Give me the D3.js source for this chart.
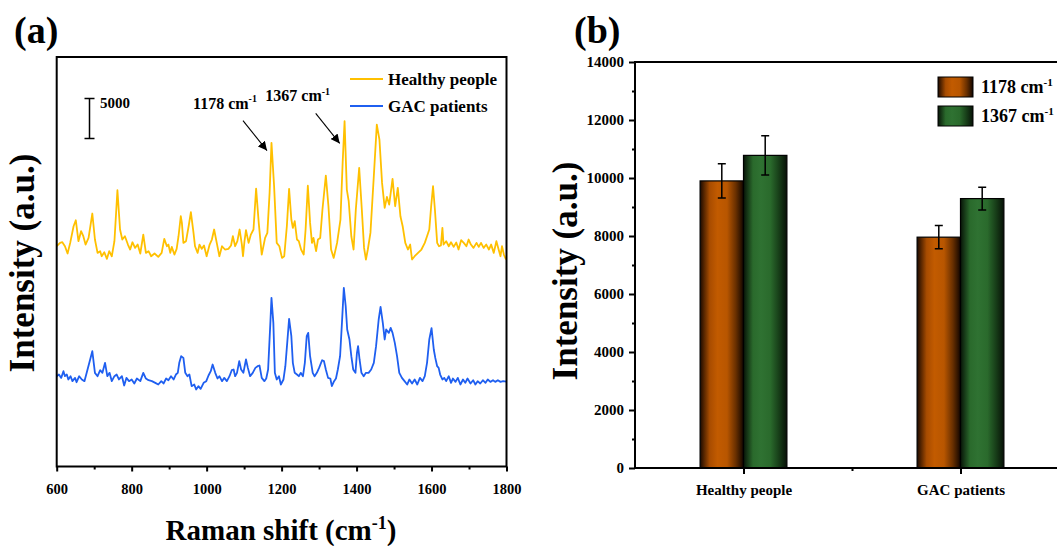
<!DOCTYPE html>
<html>
<head>
<meta charset="utf-8">
<script src="https://cdn.jsdelivr.net/npm/d3@7"></script>
<style>
  body { margin: 0; background: #fff; }
  svg text { font-family: "Liberation Serif", "Times New Roman", serif; font-weight: bold; fill: #000; }
</style>
</head>
<body>
<svg id="fig" width="1057" height="546"></svg>
<script>
// ---- panel (a) data: Raman spectra, [shift cm-1, intensity + stack offset]
var ramanTicks = [600, 800, 1000, 1200, 1400, 1600, 1800];
var ramanMinor = [700, 900, 1100, 1300, 1500, 1700];
var healthySpectrum = [[600,27540],[609,27960],[615,28040],[622,27540],[629,26630],[636,27960],[645,30040],[651,30790],[658,28170],[665,29420],[671,28790],[677,27750],[685,28580],[695,31630],[702,28380],[709,26710],[716,26920],[720,26290],[727,26790],[734,25960],[740,26920],[747,26290],[754,28170],[762,34540],[769,29630],[775,28380],[782,28790],[790,27750],[796,27130],[802,28040],[809,27330],[816,27750],[823,26630],[831,29000],[838,26710],[845,26920],[852,26290],[861,26630],[871,26210],[880,26710],[887,28460],[894,27540],[898,27750],[903,26710],[907,27460],[914,26500],[920,27210],[925,28790],[931,31290],[934,30460],[938,27960],[945,28170],[952,30040],[958,31790],[965,29210],[969,27540],[976,26710],[981,27750],[987,27210],[993,27630],[1000,26290],[1008,27750],[1014,28380],[1020,29630],[1027,27960],[1034,26290],[1041,27540],[1049,27130],[1058,27210],[1065,27630],[1070,28790],[1076,27540],[1082,28170],[1088,29630],[1094,27750],[1097,26290],[1101,28170],[1105,29540],[1112,27960],[1118,29000],[1125,29630],[1132,34750],[1139,30460],[1147,26500],[1156,28580],[1162,29210],[1168,34210],[1173,40460],[1180,35040],[1187,27960],[1194,27540],[1201,26080],[1207,26290],[1214,30040],[1220,34710],[1226,30880],[1230,29830],[1235,30670],[1241,28380],[1246,28170],[1252,27130],[1259,26500],[1264,29630],[1270,35100],[1276,30460],[1281,27960],[1285,28580],[1292,26920],[1297,28380],[1303,28580],[1309,32130],[1318,36380],[1325,32540],[1332,27130],[1339,26080],[1348,27960],[1357,30880],[1363,38130],[1368,43170],[1374,34630],[1379,33170],[1386,28790],[1392,27130],[1398,32130],[1407,37330],[1414,32130],[1420,27330],[1425,25880],[1430,27130],[1437,29210],[1446,36290],[1454,42750],[1461,40880],[1468,35460],[1475,32330],[1481,33710],[1487,32750],[1496,35960],[1503,32540],[1510,34830],[1517,31290],[1523,30040],[1530,27960],[1537,27130],[1543,27750],[1548,25880],[1555,26290],[1564,26710],[1573,27130],[1582,27960],[1588,28790],[1594,29630],[1599,32540],[1604,35040],[1609,32130],[1615,27960],[1620,27540],[1625,27630],[1629,29830],[1632,27750],[1639,28170],[1646,27540],[1652,28040],[1659,27460],[1666,28000],[1672,27130],[1679,28290],[1686,27960],[1693,27540],[1699,28380],[1705,27750],[1712,27330],[1720,27960],[1726,27460],[1732,27960],[1739,27330],[1746,27750],[1753,27130],[1759,27750],[1766,26710],[1773,28170],[1779,27130],[1784,26290],[1788,27540],[1793,26500],[1798,25960],[1800,26000]];
var gacSpectrum = [[600,11290],[606,11500],[612,11080],[618,11920],[622,11290],[627,11500],[631,10880],[637,11290],[642,10670],[649,11080],[653,10540],[660,11290],[667,10880],[674,10670],[680,11710],[687,12960],[695,14420],[702,11710],[709,11290],[716,12040],[722,11710],[729,12960],[735,11290],[741,11710],[747,10670],[754,11290],[760,11500],[766,10880],[774,11290],[780,10130],[786,11080],[793,10670],[800,10880],[807,10380],[814,11000],[823,10670],[831,11710],[838,11000],[845,10790],[854,10670],[863,10460],[871,10250],[879,10670],[885,10380],[892,11000],[898,10790],[905,11290],[912,10880],[918,11500],[923,11710],[927,12960],[932,13790],[938,13580],[943,11710],[949,11290],[954,11500],[960,10040],[967,10250],[972,9630],[978,10040],[984,9710],[992,10460],[999,10670],[1005,11380],[1011,11920],[1016,12750],[1023,11710],[1029,11000],[1034,11290],[1041,10670],[1047,11080],[1054,10670],[1061,11290],[1067,12040],[1072,12130],[1076,11290],[1081,11710],[1087,13170],[1092,12130],[1098,11710],[1105,13380],[1110,12330],[1116,11290],[1123,11710],[1130,12330],[1136,12540],[1141,12630],[1147,11080],[1154,10670],[1159,11000],[1164,12130],[1170,17960],[1173,21080],[1178,17960],[1182,11710],[1187,10880],[1193,11290],[1198,10250],[1205,10880],[1210,12540],[1215,15460],[1220,18460],[1226,16290],[1230,12960],[1235,11710],[1241,11500],[1246,11290],[1251,11710],[1257,11290],[1262,12960],[1267,16290],[1271,16710],[1276,13790],[1283,11710],[1288,11290],[1294,11710],[1300,12330],[1308,13290],[1313,13170],[1318,12130],[1324,11080],[1330,11000],[1334,10040],[1340,10670],[1345,11000],[1350,12130],[1356,13790],[1361,17960],[1366,22330],[1371,20040],[1375,17130],[1381,15880],[1386,13790],[1391,12130],[1397,11710],[1401,14210],[1404,15040],[1408,13380],[1413,11710],[1419,11290],[1425,11710],[1432,11710],[1439,12130],[1446,12960],[1452,15040],[1459,18380],[1464,19960],[1470,17960],[1475,15880],[1479,17130],[1486,16710],[1491,17330],[1496,16710],[1502,15460],[1508,13790],[1514,11710],[1521,11080],[1528,10670],[1535,10250],[1541,10880],[1548,10380],[1555,10880],[1562,10250],[1569,11080],[1576,10670],[1582,11290],[1588,12960],[1594,15880],[1600,17300],[1606,14630],[1610,13580],[1615,12540],[1619,12330],[1623,11500],[1629,10880],[1634,11080],[1639,10670],[1646,11290],[1652,10460],[1657,11000],[1664,10580],[1670,11080],[1677,10250],[1684,10880],[1690,10460],[1696,11000],[1704,10380],[1711,10790],[1717,10250],[1723,10670],[1730,10380],[1737,10790],[1744,10460],[1750,10880],[1757,10580],[1764,10790],[1770,10580],[1777,10790],[1784,10580],[1791,10670],[1800,10600]];
var spectrumNames = ["Healthy people", "GAC patients"];
var peakLabels = [{text: "1178", tip: [1161, 39500]}, {text: "1367", tip: [1355, 40400]}];

// ---- panel (b) data
var groups = ["Healthy people", "GAC patients"];
var bands = ["1178", "1367"];
var mean1178 = [9900, 7960];
var sd1178 = [590, 400];
var mean1367 = [10780, 9290];
var sd1367 = [680, 390];
var intensityTicks = [0, 2000, 4000, 6000, 8000, 10000, 12000, 14000];

var svg = d3.select("#fig");
var yellow = "#FFC000", blue = "#1F5FF0";

function cmText(sel, num, size) {
  sel.append("tspan").text(num + " cm");
  sel.append("tspan").attr("dy", -size * 0.38).style("font-size", (size * 0.62) + "px").text("-1");
}

// ================= panel (a) =================
(function () {
  var x = d3.scaleLinear().domain([600, 1800]).range([56.7, 506.5]);
  var y = d3.scaleLinear().domain([0, 51200]).range([466.5, 57]);
  var g = svg.append("g");

  g.append("text").attr("x", 14).attr("y", 43).style("font-size", "38px").text("(a)");

  var line = d3.line().x(d => x(d[0])).y(d => y(d[1]));
  g.append("path").datum(healthySpectrum).attr("d", line)
    .attr("fill", "none").attr("stroke", yellow).attr("stroke-width", 1.8).attr("stroke-linejoin", "round");
  g.append("path").datum(gacSpectrum).attr("d", line)
    .attr("fill", "none").attr("stroke", blue).attr("stroke-width", 1.8).attr("stroke-linejoin", "round");

  // frame
  g.append("rect").attr("x", x(600)).attr("y", y(51200))
    .attr("width", x(1800) - x(600)).attr("height", y(0) - y(51200))
    .attr("fill", "none").attr("stroke", "#000").attr("stroke-width", 2);

  var ax = g.append("g").attr("transform", "translate(0," + y(0) + ")")
    .call(d3.axisBottom(x).tickValues(ramanTicks).tickSize(5).tickPadding(12).tickFormat(d3.format("d")));
  ax.select(".domain").remove();
  ax.selectAll(".tick line").attr("stroke-width", 2);
  ax.selectAll("text").style("font-size", "14.5px");
  var mx = g.append("g").attr("transform", "translate(0," + y(0) + ")")
    .call(d3.axisBottom(x).tickValues(ramanMinor).tickSize(3).tickFormat(""));
  mx.select(".domain").remove();
  mx.selectAll(".tick line").attr("stroke-width", 2);

  // axis titles
  var xl = g.append("text").attr("x", 281).attr("y", 540).attr("text-anchor", "middle").style("font-size", "29px");
  xl.append("tspan").text("Raman shift (cm");
  xl.append("tspan").attr("dy", -11).style("font-size", "18px").text("-1");
  xl.append("tspan").attr("dy", 11).text(")");
  g.append("text").attr("transform", "translate(34,263) rotate(-90)")
    .attr("text-anchor", "middle").style("font-size", "35px").text("Intensity (a.u.)");

  // scale bar 5000
  var sbx = 89.5;
  g.append("path").attr("d", "M" + sbx + "," + y(46000) + "V" + y(41000) +
      "M" + (sbx - 5) + "," + y(46000) + "H" + (sbx + 5) + "M" + (sbx - 5) + "," + y(41000) + "H" + (sbx + 5))
    .attr("stroke", "#000").attr("stroke-width", 1.5).attr("fill", "none");
  g.append("text").attr("x", 100).attr("y", 108).style("font-size", "15px").text("5000");

  // peak annotations
  var defs = svg.append("defs");
  defs.append("marker").attr("id", "arr").attr("viewBox", "0 0 10 10").attr("refX", 10).attr("refY", 5)
    .attr("markerWidth", 9).attr("markerHeight", 9).attr("markerUnits", "userSpaceOnUse").attr("orient", "auto")
    .append("path").attr("d", "M0,0L10,5L0,10z").attr("fill", "#000");
  peakLabels.forEach(function (p) {
    var tx = x(p.tip[0]), ty = y(p.tip[1]);
    g.append("line").attr("x1", tx - 24).attr("y1", ty - 30).attr("x2", tx).attr("y2", ty)
      .attr("stroke", "#000").attr("stroke-width", 1.1).attr("marker-end", "url(#arr)");
    var t = g.append("text").attr("x", tx - 42).attr("y", ty - 42).attr("text-anchor", "middle").style("font-size", "16px");
    cmText(t, p.text, 16);
  });

  // legend
  [yellow, blue].forEach(function (c, i) {
    var ly = 79 + i * 27;
    g.append("line").attr("x1", 350).attr("x2", 383).attr("y1", ly).attr("y2", ly)
      .attr("stroke", c).attr("stroke-width", 2);
    g.append("text").attr("x", 388).attr("y", ly + 6).style("font-size", "17px").text(spectrumNames[i]);
  });
})();

// ================= panel (b) =================
(function () {
  var x = d3.scaleLinear().domain([0.5, 2.5]).range([635, 1069]);
  var y = d3.scaleLinear().domain([0, 14000]).range([468, 62]);
  var g = svg.append("g");
  var defs = svg.select("defs");

  function grad(id, stops) {
    var lg = defs.append("linearGradient").attr("id", id).attr("x1", "0%").attr("x2", "100%").attr("y1", "0%").attr("y2", "0%");
    stops.forEach(s => lg.append("stop").attr("offset", s[0]).attr("stop-color", s[1]));
  }
  grad("gOrange", [["0%", "#1c0a00"], ["22%", "#a84c00"], ["40%", "#c25b00"], ["62%", "#b85600"], ["82%", "#6a3000"], ["100%", "#120600"]]);
  grad("gGreen", [["0%", "#081408"], ["22%", "#2a6a2c"], ["40%", "#2f7232"], ["62%", "#2a6a2c"], ["82%", "#173d18"], ["100%", "#071107"]]);
  var fills = ["url(#gOrange)", "url(#gGreen)"];

  g.append("text").attr("x", 574).attr("y", 43).style("font-size", "38px").text("(b)");

  var bw = 0.2;
  var series = [[mean1178, sd1178], [mean1367, sd1367]];
  series.forEach(function (s, j) {
    groups.forEach(function (grp, i) {
      var cx = (i + 1) + (j === 0 ? -bw / 2 : bw / 2);
      var x0 = x(cx - bw / 2), x1 = x(cx + bw / 2);
      g.append("rect").attr("x", x0).attr("y", y(s[0][i])).attr("width", x1 - x0).attr("height", y(0) - y(s[0][i]))
        .attr("fill", fills[j]).attr("stroke", "#000").attr("stroke-width", 1.2);
      var ex = x(cx), hi = y(s[0][i] + s[1][i]), lo = y(s[0][i] - s[1][i]);
      g.append("path").attr("d", "M" + ex + "," + hi + "V" + lo + "M" + (ex - 4) + "," + hi + "H" + (ex + 4) + "M" + (ex - 4) + "," + lo + "H" + (ex + 4))
        .attr("stroke", "#000").attr("stroke-width", 1.5).attr("fill", "none");
    });
  });

  // frame lines
  g.append("line").attr("x1", x(0.5)).attr("x2", x(2.5)).attr("y1", y(14000)).attr("y2", y(14000))
    .attr("stroke", "#000").attr("stroke-width", 2);
  g.append("line").attr("x1", x(2.5)).attr("x2", x(2.5)).attr("y1", y(14000)).attr("y2", y(0))
    .attr("stroke", "#000").attr("stroke-width", 2);

  var ay = g.append("g").attr("transform", "translate(" + x(0.5) + ",0)")
    .call(d3.axisLeft(y).tickValues(intensityTicks).tickSize(6).tickPadding(5).tickFormat(d3.format("d")));
  ay.select(".domain").attr("stroke-width", 2).attr("d", "M0," + (y(14000) - 1) + "V" + (y(0) + 1));
  ay.selectAll(".tick line").attr("stroke-width", 2);
  ay.selectAll("text").style("font-size", "15px");
  var my = g.append("g").attr("transform", "translate(" + x(0.5) + ",0)")
    .call(d3.axisLeft(y).tickValues(d3.range(1000, 14000, 2000)).tickSize(3).tickFormat(""));
  my.select(".domain").remove();
  my.selectAll(".tick line").attr("stroke-width", 2);

  var axb = g.append("g").attr("transform", "translate(0," + y(0) + ")")
    .call(d3.axisBottom(x).tickValues([1, 2]).tickSize(6).tickPadding(10).tickFormat((d, i) => groups[i]));
  axb.select(".domain").attr("stroke-width", 2).attr("d", "M" + (x(0.5) - 1) + ",0H" + x(2.5));
  axb.selectAll(".tick line").attr("stroke-width", 2);
  axb.selectAll("text").style("font-size", "15px");
  var mb = g.append("g").attr("transform", "translate(0," + y(0) + ")")
    .call(d3.axisBottom(x).tickValues([1.5]).tickSize(3).tickFormat(""));
  mb.select(".domain").remove();
  mb.selectAll(".tick line").attr("stroke-width", 2);

  g.append("text").attr("transform", "translate(577,271) rotate(-90)")
    .attr("text-anchor", "middle").style("font-size", "35px").text("Intensity (a.u.)");

  // legend
  bands.forEach(function (b, j) {
    var ly = 77 + j * 29;
    g.append("rect").attr("x", 938).attr("y", ly).attr("width", 35).attr("height", 20)
      .attr("fill", fills[j]).attr("stroke", "#000").attr("stroke-width", 1);
    var t = g.append("text").attr("x", 981).attr("y", ly + 16).style("font-size", "18px");
    cmText(t, b, 18);
  });
})();
</script>
</body>
</html>
